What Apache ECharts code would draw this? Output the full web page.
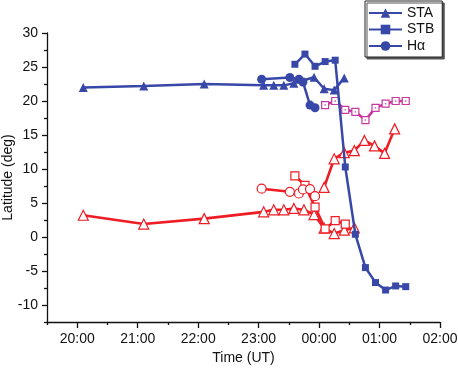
<!DOCTYPE html>
<html>
<head>
<meta charset="utf-8">
<script src="https://cdn.jsdelivr.net/npm/echarts@6/dist/echarts.min.js"></script>
<style>
  html, body { margin: 0; padding: 0; background: #fff; }
  #chart { width: 458px; height: 368px; }
</style>
</head>
<body>
<div id="chart"></div>
<script>
// time of each measurement (UT), values are latitude in degrees
var staTimes = ['20:06', '21:06', '22:06', '23:05', '23:15', '23:25', '23:35', '23:55', '00:05', '00:15', '00:25'];
var staNorth = [22.0, 22.2, 22.5, 22.3, 22.3, 22.3, 22.6, 23.5, 21.8, 21.6, 23.4];

var stbTimes = ['23:36', '23:46', '23:56', '00:06', '00:16', '00:26', '00:36', '00:46', '00:56', '01:06', '01:16', '01:26'];
var stbNorth = [25.4, 26.9, 25.1, 25.8, 26.0, 10.3, 0.4, -4.5, -6.7, -7.8, -7.2, -7.3];

var haTimes = ['23:03', '23:31', '23:40', '23:44', '23:51', '23:56'];
var haNorth = [23.2, 23.45, 23.2, 22.8, 19.4, 19.0];
var haSouth = [7.1, 6.65, 6.4, 7.0, 7.05, 6.0];

// southern STA, first track
var staSouthTimes = ['20:06', '21:06', '22:06', '23:05', '23:15', '23:25', '23:35', '23:45', '23:55', '00:05', '00:15', '00:25', '00:35'];
var staSouth = [3.2, 1.9, 2.7, 3.7, 4.0, 4.0, 4.2, 4.0, 3.3, 1.3, 0.5, 1.0, 1.35];

// second red triangle track after midnight
var staSouth2Times = ['00:05', '00:15', '00:25', '00:35', '00:45', '00:55', '01:05', '01:15'];
var staSouth2 = [7.3, 11.5, 12.4, 12.7, 14.2, 13.4, 12.3, 15.9];

var stbSouthTimes = ['23:36', '23:46', '23:56', '00:06', '00:16', '00:26'];
var stbSouth = [9.0, 7.6, 4.4, 1.2, 2.4, 1.9];

// magenta square track
var pinkTimes = ['00:06', '00:16', '00:26', '00:36', '00:46', '00:56', '01:06', '01:16', '01:26'];
var pinkVals = [19.4, 20.0, 18.7, 18.4, 17.2, 19.0, 19.6, 20.0, 20.0];

var hourTicks = [20, 21, 22, 23, 24, 25, 26];
var halfTicks = [19.5, 20.5, 21.5, 22.5, 23.5, 24.5, 25.5];
var latTicks = [-10, -5, 0, 5, 10, 15, 20, 25, 30];
var latMinor = [-12.5, -7.5, -2.5, 2.5, 7.5, 12.5, 17.5, 22.5, 27.5];

var BLUE = '#3848a8', RED = '#ee1c24', PINK = '#c8389f';
var FONT = 'Liberation Sans, Arial, sans-serif';

// times after midnight go past 24h so the axis stays continuous
function toHour(s) {
  var p = s.split(':').map(Number);
  return (p[0] < 12 ? p[0] + 24 : p[0]) + p[1] / 60;
}
function pairs(times, vals) {
  return times.map(function (t, i) { return [toHour(t), vals[i]]; });
}

var chart = echarts.init(document.getElementById('chart'), null, { renderer: 'canvas' });

function blueLine(name, symbol, size, data) {
  return {
    name: name, type: 'line', data: data, symbol: symbol, symbolSize: size,
    z: 5,
    lineStyle: { color: BLUE, width: 2.5 },
    itemStyle: { color: BLUE, borderWidth: 0 }
  };
}
function openLine(name, symbol, size, color, data) {
  return {
    name: name, type: 'line', data: data, symbol: symbol, symbolSize: size,
    z: 3,
    lineStyle: { color: color, width: 2.6 },
    itemStyle: { color: '#fff', borderColor: color, borderWidth: 1.2, opacity: 1 }
  };
}

var axisLineStyle = { color: '#111', width: 1.3 };

var option = {
  animation: false,
  backgroundColor: '#fff',
  grid: { left: 47, right: 18, top: 33, bottom: 46, containLabel: false, outerBoundsMode: 'none' },
  legend: {
    data: ['STA', 'STB', 'Hα'],
    orient: 'vertical',
    left: 365,
    top: 1,
    padding: [5, 8, 4, 3],
    itemGap: 2.5,
    itemWidth: 33,
    itemHeight: 12,
    borderColor: '#222',
    borderWidth: 1,
    backgroundColor: '#fff',
    shadowColor: '#555',
    shadowOffsetX: 2,
    shadowOffsetY: 2,
    shadowBlur: 0,
    textStyle: { fontSize: 14, lineHeight: 14, fontFamily: FONT, color: '#111' }
  },
  xAxis: [{
    type: 'value', min: 19.5, max: 26,
    name: 'Time (UT)', nameLocation: 'middle', nameGap: 28,
    nameTextStyle: { fontSize: 14, fontFamily: FONT, color: '#111' },
    axisLine: { show: true, onZero: false, lineStyle: axisLineStyle },
    axisTick: { show: true, customValues: hourTicks, length: 6, lineStyle: axisLineStyle },
    axisLabel: {
      customValues: hourTicks, margin: 10, fontSize: 14, fontFamily: FONT, color: '#111',
      formatter: function (v) { return String(v % 24).padStart(2, '0') + ':00'; }
    },
    splitLine: { show: false }
  }, {
    type: 'value', min: 19.5, max: 26, position: 'bottom',
    axisLine: { show: false, onZero: false },
    axisTick: { show: true, customValues: halfTicks, length: 3, lineStyle: axisLineStyle },
    axisLabel: { show: false },
    splitLine: { show: false }
  }],
  yAxis: [{
    type: 'value', min: -12.5, max: 30,
    name: 'Latitude (deg)', nameLocation: 'middle', nameGap: 32, nameRotate: 90,
    nameMoveOverlap: false,
    nameTextStyle: { fontSize: 14, fontFamily: FONT, color: '#111' },
    axisLine: { show: true, onZero: false, lineStyle: axisLineStyle },
    axisTick: { show: true, customValues: latTicks, length: 5, lineStyle: axisLineStyle },
    axisLabel: { customValues: latTicks, margin: 9, fontSize: 14, fontFamily: FONT, color: '#111' },
    splitLine: { show: false }
  }, {
    type: 'value', min: -12.5, max: 30, position: 'left',
    axisLine: { show: false, onZero: false },
    axisTick: { show: true, customValues: latMinor, length: 3, lineStyle: axisLineStyle },
    axisLabel: { show: false },
    splitLine: { show: false }
  }],
  series: [
    openLine('STA south', 'triangle', 10, RED, pairs(staSouthTimes, staSouth)),
    openLine('STA south 2', 'triangle', 10, RED, pairs(staSouth2Times, staSouth2)),
    openLine('STB south', 'rect', 8, RED, pairs(stbSouthTimes, stbSouth)),
    openLine('Hα south', 'circle', 9, RED, pairs(haTimes, haSouth)),
    openLine('pink', 'rect', 7, PINK, pairs(pinkTimes, pinkVals)),
    {
      name: 'pink dot', type: 'scatter', data: pairs(pinkTimes, pinkVals),
      symbol: 'rect', symbolSize: 1.5, z: 4, silent: true,
      itemStyle: { color: PINK }
    },
    blueLine('STA', 'triangle', 9, pairs(staTimes, staNorth)),
    blueLine('STB', 'rect', 7, pairs(stbTimes, stbNorth)),
    blueLine('Hα', 'circle', 9, pairs(haTimes, haNorth))
  ]
};
chart.setOption(option);
</script>
</body>
</html>
